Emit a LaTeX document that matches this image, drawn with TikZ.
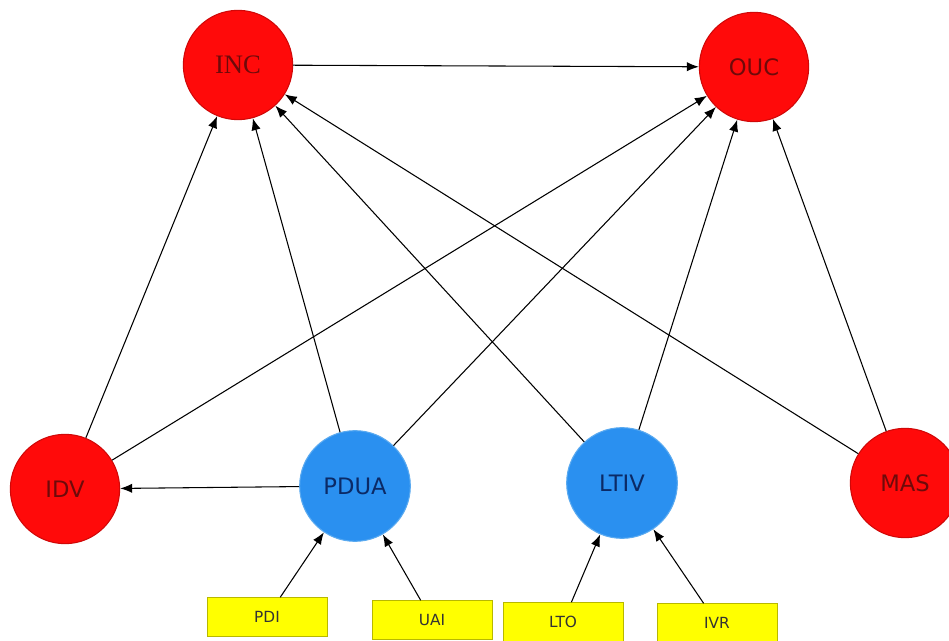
\documentclass[tikz,border=0pt]{standalone}
\usepackage{fontspec}
\setmainfont{DejaVu Sans}
\newfontfamily\serifnc{Liberation Serif}
\usetikzlibrary{arrows.meta}
\definecolor{redfill}{HTML}{FF0A0A}
\definecolor{redline}{HTML}{D00808}
\definecolor{redtext}{HTML}{6E0A0A}
\definecolor{bluefill}{HTML}{2A90F0}
\definecolor{blueline}{HTML}{5AAAF0}
\definecolor{bluetext}{HTML}{0B2A66}
\definecolor{yelfill}{HTML}{FFFF00}
\definecolor{yelline}{HTML}{B8B800}
\tikzset{
  redc/.style={circle, fill=redfill, draw=redline, line width=0.8pt, minimum size=82pt, inner sep=0pt, text=redtext, font=\fontsize{17}{19}\selectfont},
  bluec/.style={circle, fill=bluefill, draw=blueline, line width=0.8pt, minimum size=83pt, inner sep=0pt, text=bluetext, font=\fontsize{17}{19}\selectfont},
  ybox/.style={rectangle, fill=yelfill, draw=yelline, line width=0.6pt, minimum width=90pt, minimum height=29pt, inner sep=0pt, text=black!80, font=\fontsize{11.5}{13}\selectfont},
  conn/.style={draw=black, line width=0.8pt, -{Latex[length=9pt,width=7pt]}}
}
\begin{document}
\begin{tikzpicture}[x=0.75pt,y=-0.75pt]
\useasboundingbox (0,0) rectangle (949,641);
\fill[white] (0,0) rectangle (949,641);
\node[redc, font=\serifnc\fontsize{20}{22}\selectfont] (INC) at (238,65) {INC};
\node[redc] (OUC) at (754,67) {OUC};
\node[redc] (IDV) at (65,489) {IDV};
\node[bluec] (PDUA) at (355,486) {PDUA};
\node[bluec] (LTIV) at (622,483) {LTIV};
\node[redc] (MAS) at (905,483) {MAS};
\node[ybox] (PDI) at (267,617) {PDI};
\node[ybox] (UAI) at (432,620) {UAI};
\node[ybox] (LTO) at (563,622) {LTO};
\node[ybox] (IVR) at (717,623) {IVR};
\draw[conn] (INC) -- (OUC);
\draw[conn] (IDV) -- (INC);
\draw[conn] (IDV) -- (OUC);
\draw[conn] (PDUA) -- (INC);
\draw[conn] (PDUA) -- (IDV);
\draw[conn] (PDUA) -- (OUC);
\draw[conn] (LTIV) -- (INC);
\draw[conn] (LTIV) -- (OUC);
\draw[conn] (MAS) -- (INC);
\draw[conn] (MAS) -- (OUC);
\draw[conn] (PDI) -- (PDUA);
\draw[conn] (UAI) -- (PDUA);
\draw[conn] (LTO) -- (LTIV);
\draw[conn] (IVR) -- (LTIV);
\end{tikzpicture}
\end{document}
